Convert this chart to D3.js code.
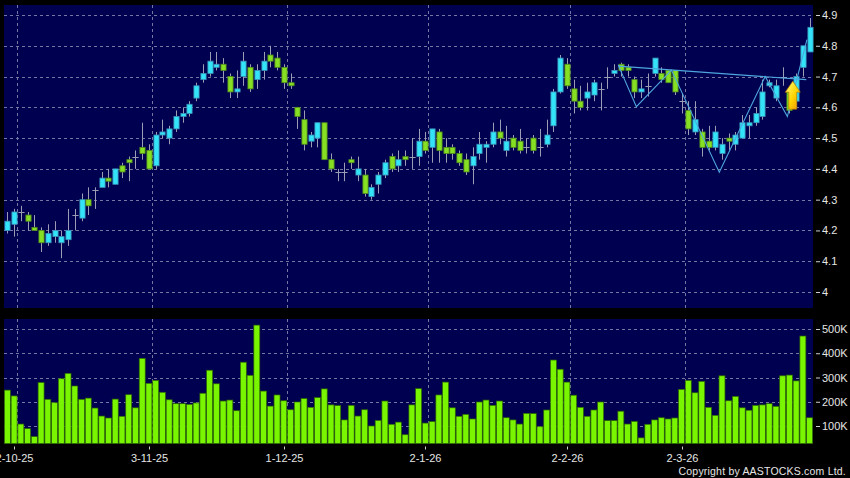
<!DOCTYPE html>
<html><head><meta charset="utf-8">
<script src="https://cdn.jsdelivr.net/npm/d3@7/dist/d3.min.js"></script>
<style>
body{margin:0;background:#000;overflow:hidden;}
svg{display:block;}
text{font-family:Arial,"Liberation Sans",sans-serif;}
</style></head><body>
<svg id="c" width="850" height="478"></svg>
<script>
// ---------- DATA ----------
const dates=["30-9-25",
"2-10-25","3-10-25","6-10-25","8-10-25","9-10-25","10-10-25","13-10-25","14-10-25","15-10-25","16-10-25","17-10-25","20-10-25","21-10-25","22-10-25","23-10-25","24-10-25","27-10-25","28-10-25","30-10-25","31-10-25",
"3-11-25","4-11-25","5-11-25","6-11-25","7-11-25","10-11-25","11-11-25","12-11-25","13-11-25","14-11-25","17-11-25","18-11-25","19-11-25","20-11-25","21-11-25","24-11-25","25-11-25","26-11-25","27-11-25","28-11-25",
"1-12-25","2-12-25","3-12-25","4-12-25","5-12-25","8-12-25","9-12-25","10-12-25","11-12-25","12-12-25","15-12-25","16-12-25","17-12-25","18-12-25","19-12-25","22-12-25","23-12-25","24-12-25","29-12-25","30-12-25","31-12-25",
"2-1-26","5-1-26","6-1-26","7-1-26","8-1-26","9-1-26","12-1-26","13-1-26","14-1-26","15-1-26","16-1-26","19-1-26","20-1-26","21-1-26","22-1-26","23-1-26","26-1-26","27-1-26","28-1-26","29-1-26","30-1-26",
"2-2-26","3-2-26","4-2-26","5-2-26","6-2-26","9-2-26","10-2-26","11-2-26","12-2-26","13-2-26","16-2-26","20-2-26","23-2-26","24-2-26","25-2-26","26-2-26","27-2-26",
"2-3-26","3-3-26","4-3-26","5-3-26","6-3-26","9-3-26","10-3-26","11-3-26","12-3-26","13-3-26","16-3-26","17-3-26","18-3-26","19-3-26","20-3-26","23-3-26","24-3-26","25-3-26","26-3-26","27-3-26"];

const open=[4.20,4.22,4.26,4.25,4.21,4.20,4.16,4.18,4.16,4.17,4.25,4.24,4.30,4.33,4.34,4.37,4.35,4.41,4.43,4.44,
4.47,4.46,4.41,4.51,4.50,4.53,4.57,4.58,4.63,4.69,4.71,4.73,4.74,4.70,4.65,4.70,4.73,4.69,4.72,4.77,
4.76,4.73,4.68,4.60,4.56,4.49,4.50,4.55,4.43,4.39,4.39,4.43,4.38,4.38,4.31,4.35,4.38,4.44,4.41,4.44,
4.44,4.44,4.49,4.47,4.52,4.47,4.47,4.45,4.43,4.41,4.45,4.47,4.48,4.52,4.46,4.50,4.49,4.47,4.50,4.47,
4.48,4.54,4.65,4.74,4.66,4.62,4.63,4.64,4.66,4.70,4.71,4.74,4.73,4.69,4.65,4.67,4.71,4.71,4.72,4.72,
4.62,4.59,4.52,4.52,4.49,4.47,4.45,4.50,4.48,4.50,4.54,4.55,4.57,4.67,4.63,4.70,4.65,4.62,4.73,4.78];
const high=[4.26,4.27,4.28,4.26,4.25,4.21,4.22,4.23,4.20,4.27,4.27,4.32,4.34,4.34,4.39,4.40,4.40,4.42,4.44,4.46,
4.55,4.48,4.52,4.56,4.54,4.59,4.60,4.62,4.68,4.74,4.78,4.78,4.76,4.71,4.72,4.78,4.74,4.74,4.78,4.80,
4.78,4.74,4.71,4.60,4.59,4.52,4.55,4.55,4.45,4.40,4.42,4.44,4.44,4.40,4.35,4.39,4.43,4.45,4.46,4.46,
4.50,4.53,4.52,4.53,4.53,4.50,4.48,4.46,4.45,4.47,4.52,4.49,4.55,4.56,4.54,4.51,4.53,4.50,4.51,4.53,
4.56,4.66,4.77,4.76,4.69,4.67,4.68,4.69,4.68,4.73,4.74,4.745,4.74,4.70,4.69,4.71,4.76,4.73,4.72,4.72,
4.646,4.62,4.62,4.53,4.54,4.54,4.50,4.515,4.52,4.575,4.575,4.60,4.69,4.69,4.69,4.73,4.66,4.71,4.80,4.89];
const low=[4.19,4.18,4.23,4.20,4.20,4.13,4.15,4.16,4.11,4.15,4.20,4.23,4.25,4.27,4.34,4.34,4.35,4.37,4.36,4.40,
4.43,4.40,4.40,4.50,4.48,4.52,4.55,4.57,4.62,4.68,4.70,4.72,4.68,4.63,4.63,4.67,4.65,4.66,4.69,4.73,
4.72,4.66,4.66,4.53,4.46,4.47,4.47,4.43,4.39,4.36,4.36,4.40,4.36,4.31,4.30,4.32,4.37,4.39,4.39,4.41,
4.40,4.41,4.45,4.42,4.42,4.42,4.43,4.41,4.38,4.35,4.43,4.42,4.47,4.48,4.44,4.46,4.45,4.45,4.45,4.44,
4.47,4.52,4.645,4.66,4.58,4.59,4.59,4.62,4.59,4.66,4.70,4.70,4.70,4.63,4.63,4.635,4.70,4.68,4.68,4.64,
4.58,4.51,4.51,4.44,4.46,4.46,4.43,4.46,4.46,4.50,4.50,4.54,4.56,4.665,4.62,4.67,4.58,4.60,4.70,4.78];
const close=[4.23,4.26,4.26,4.23,4.20,4.16,4.19,4.20,4.18,4.20,4.25,4.30,4.28,4.33,4.37,4.36,4.40,4.39,4.42,4.44,
4.45,4.40,4.51,4.52,4.53,4.57,4.58,4.61,4.67,4.71,4.75,4.74,4.72,4.65,4.66,4.75,4.66,4.72,4.75,4.75,
4.73,4.68,4.67,4.57,4.48,4.51,4.55,4.43,4.40,4.39,4.39,4.42,4.40,4.32,4.34,4.38,4.42,4.40,4.43,4.43,
4.44,4.49,4.46,4.53,4.46,4.45,4.45,4.42,4.39,4.44,4.48,4.48,4.52,4.50,4.49,4.47,4.46,4.47,4.46,4.47,
4.51,4.65,4.76,4.67,4.62,4.60,4.65,4.68,4.66,4.70,4.72,4.72,4.72,4.65,4.66,4.67,4.76,4.69,4.68,4.65,
4.62,4.53,4.56,4.47,4.47,4.52,4.48,4.49,4.51,4.55,4.55,4.58,4.65,4.68,4.67,4.70,4.59,4.70,4.80,4.86];
const volume=[248000,224000,108000,89000,56000,279000,210000,196000,295000,317000,265000,210000,215000,174000,141000,133000,211000,140000,229000,175000,
379000,276000,288000,239000,208000,192000,192000,189000,195000,235000,330000,274000,203000,207000,163000,363000,309000,516000,244000,182000,
228000,204000,167000,199000,213000,177000,217000,253000,187000,184000,125000,185000,141000,167000,100000,123000,203000,107000,116000,64000,
187000,254000,112000,118000,228000,281000,175000,140000,148000,129000,199000,207000,185000,203000,134000,125000,108000,152000,151000,97000,
166000,372000,334000,281000,227000,177000,140000,166000,199000,122000,122000,161000,108000,119000,51000,107000,125000,134000,129000,133000,
251000,288000,237000,284000,177000,144000,307000,204000,222000,175000,165000,185000,187000,192000,181000,307000,310000,286000,471000,134000];

const xTickLabels=["2-10-25","3-11-25","1-12-25","2-1-26","2-2-26","2-3-26"];
const priceTicks=[4.0,4.1,4.2,4.3,4.4,4.5,4.6,4.7,4.8,4.9];
const volumeTicks=[100000,200000,300000,400000,500000];
// chart-pattern overlay (candle index position, price)
const patternIdx=[90.6,93.3,98.5,105.6,112.4,115.7,118.6];
const patternPrice=[4.738,4.602,4.721,4.389,4.700,4.570,4.820];
const necklineIdx=[90.6,118.5];
const necklinePrice=[4.734,4.690];
const arrowIdx=116.5, arrowTipPrice=4.685;
const copyright="Copyright by AASTOCKS.com Ltd.";

// ---------- LAYOUT ----------
const L=4,R=813,pTop=5,pBot=308,vTop=319,vBot=443.5;
const svg=d3.select("#c");
svg.append("rect").attr("width",850).attr("height",478).attr("fill","#000");
const NAVY="#000050";
svg.append("rect").attr("x",L).attr("y",pTop).attr("width",R-L).attr("height",pBot-pTop).attr("fill",NAVY);
svg.append("rect").attr("x",L).attr("y",vTop).attr("width",R-L).attr("height",vBot-vTop).attr("fill",NAVY);

const x=d3.scaleBand().domain(dates).range([L,R]).padding(0);
const bw=x.bandwidth();
const xi=d3.scaleLinear().domain([-0.5,dates.length-0.5]).range([L,R]); // index -> centre
const cx=d=>x(d)+bw/2;
const y=d3.scaleLinear().domain([4.0,4.9]).range([292,15]);
const yv=d3.scaleLinear().domain([100000,500000]).range([426,329]);

const GRID="#7676a2";
const gridG=svg.append("g").attr("stroke",GRID).attr("stroke-width",1).attr("stroke-dasharray","3,3").attr("fill","none");
priceTicks.forEach(t=>{const yy=Math.round(y(t))+0.5;gridG.append("line").attr("x1",L).attr("x2",R).attr("y1",yy).attr("y2",yy);});
volumeTicks.forEach(t=>{const yy=Math.round(yv(t))+0.5;gridG.append("line").attr("x1",L).attr("x2",R).attr("y1",yy).attr("y2",yy);});
const gx=d=>Math.round(x(d)+bw*0.95)+0.5;
xTickLabels.forEach(d=>{
  gridG.append("line").attr("x1",gx(d)).attr("x2",gx(d)).attr("y1",pTop).attr("y2",pBot);
  gridG.append("line").attr("x1",gx(d)).attr("x2",gx(d)).attr("y1",vTop).attr("y2",vBot);
});

// ---------- CANDLES ----------
const idx=d3.range(dates.length);
const cg=svg.append("g");
const WICK="#9c9cb4";
cg.selectAll("line.w").data(idx).join("line").attr("class","w")
  .attr("x1",i=>Math.round(cx(dates[i]))+0.5).attr("x2",i=>Math.round(cx(dates[i]))+0.5)
  .attr("y1",i=>y(high[i])).attr("y2",i=>y(low[i])).attr("stroke",WICK).attr("stroke-width",1);
const bodyW=5.2;
cg.selectAll("rect.b").data(idx.filter(i=>Math.abs(close[i]-open[i])>0.004)).join("rect").attr("class","b")
  .attr("x",i=>Math.round(cx(dates[i]))+0.5-bodyW/2)
  .attr("y",i=>y(Math.max(open[i],close[i])))
  .attr("width",bodyW)
  .attr("height",i=>Math.max(2,Math.abs(y(open[i])-y(close[i]))))
  .attr("fill",i=>close[i]>open[i]?"#33e3f7":"#86df22")
  .attr("stroke",i=>close[i]>open[i]?"#3a90b8":"#4f8c1c").attr("stroke-width",0.8);
cg.selectAll("line.d").data(idx.filter(i=>Math.abs(close[i]-open[i])<=0.004)).join("line").attr("class","d")
  .attr("x1",i=>Math.round(cx(dates[i]))+0.5-bodyW/2-0.5).attr("x2",i=>Math.round(cx(dates[i]))+0.5+bodyW/2+0.5)
  .attr("y1",i=>Math.round(y(open[i]))+0.5).attr("y2",i=>Math.round(y(open[i]))+0.5)
  .attr("stroke",WICK).attr("stroke-width",1);

// ---------- PATTERN ----------
const pl=d3.line().x(d=>xi(d[0])).y(d=>y(d[1]));
svg.append("path").attr("d",pl(patternIdx.map((v,i)=>[v,patternPrice[i]])))
  .attr("fill","none").attr("stroke","#4ea6de").attr("stroke-width",1.1);
svg.append("path").attr("d",pl(necklineIdx.map((v,i)=>[v,necklinePrice[i]])))
  .attr("fill","none").attr("stroke","#4ea6de").attr("stroke-width",1.1);

// arrow
const defs=svg.append("defs");
const gr=defs.append("linearGradient").attr("id","ag").attr("x1",0).attr("y1",0).attr("x2",1).attr("y2",1);
gr.append("stop").attr("offset","0%").attr("stop-color","#ffff80");
gr.append("stop").attr("offset","55%").attr("stop-color","#ffd400");
gr.append("stop").attr("offset","100%").attr("stop-color","#e89000");
const ax=xi(arrowIdx), ay=y(arrowTipPrice);
svg.append("path").attr("transform",`translate(${ax},${ay})`)
  .attr("d","M0,0 L7.5,11 L4,11 L4,28 L-4,28 L-4,11 L-7.5,11 Z")
  .attr("fill","url(#ag)").attr("stroke","#b07800").attr("stroke-width",0.7);

// ---------- VOLUME ----------
svg.append("g").selectAll("rect").data(idx).join("rect")
  .attr("x",i=>x(dates[i])+0.4).attr("width",bw-0.8)
  .attr("y",i=>yv(volume[i])).attr("height",i=>vBot-yv(volume[i]))
  .attr("fill","#7af500").attr("stroke","#2e6a00").attr("stroke-width",0.7);

// ---------- AXES ----------
const TXT="#e6e6e6";
const pa=svg.append("g").attr("transform",`translate(${R+3},0)`)
  .call(d3.axisRight(y).tickValues(priceTicks).tickSize(4).tickPadding(2).tickFormat(d3.format("~f")));
const va=svg.append("g").attr("transform",`translate(${R+3},0)`)
  .call(d3.axisRight(yv).tickValues(volumeTicks).tickSize(4).tickPadding(2).tickFormat(d=>(d/1000)+"K"));
[pa,va].forEach(g=>{g.select(".domain").remove();
  g.selectAll("line").attr("stroke","#cfcfcf");
  g.selectAll("text").attr("fill",TXT).attr("font-size",11);});

const xa=svg.append("g");
xTickLabels.forEach(d=>{
  const xx=gx(d)-3;
  xa.append("line").attr("x1",xx).attr("x2",xx).attr("y1",vBot+3).attr("y2",vBot+6).attr("stroke","#cfcfcf");
  xa.append("text").attr("x",xx).attr("y",462).attr("text-anchor","middle").attr("fill",TXT).attr("font-size",11).text(d);
});

svg.append("text").attr("x",846).attr("y",475).attr("text-anchor","end").attr("fill",TXT)
  .attr("font-size",10.5).attr("letter-spacing","0.2").text(copyright);
</script>
</body></html>
